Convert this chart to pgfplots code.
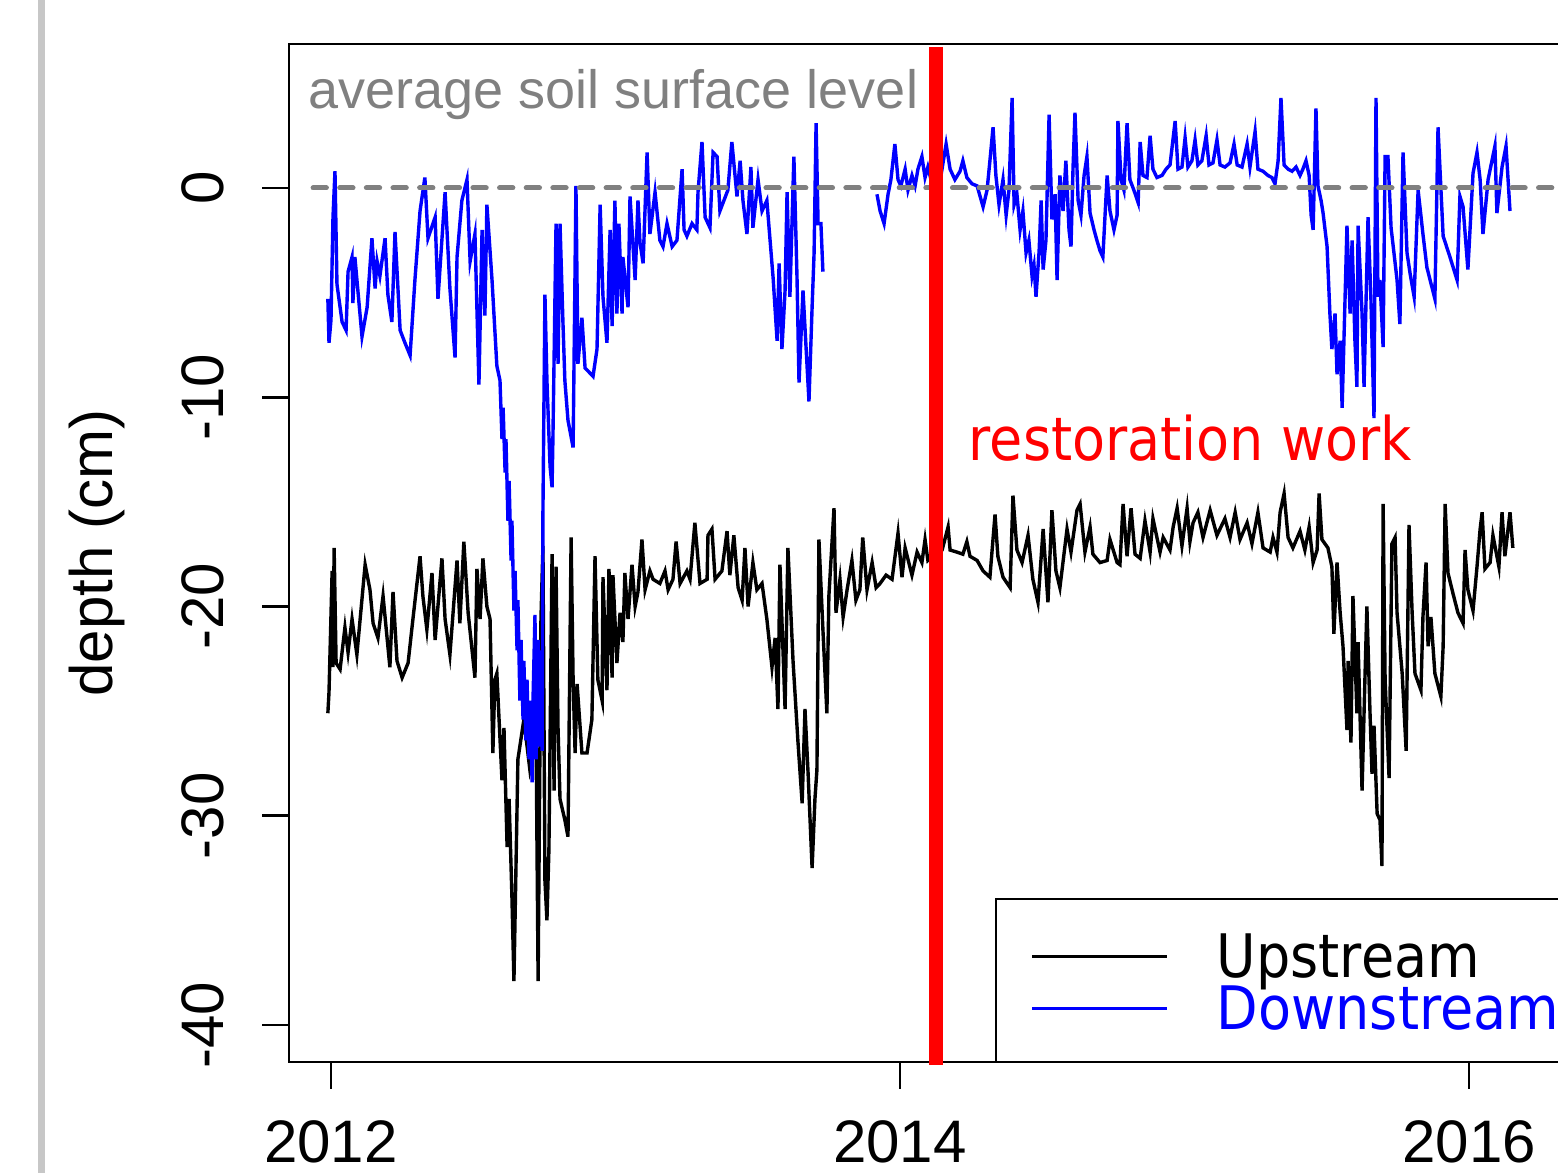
\documentclass[border=0pt]{standalone}
\usepackage{fontspec}
\setmainfont{Liberation Sans}
\newfontfamily\dvs[FakeStretch=0.9]{DejaVu Sans}
\usepackage{pgfplots}
\pgfplotsset{compat=1.18}
\begin{document}
\begin{tikzpicture}
\fill[black!22] (-62.75pt,-27.75pt) rectangle (-61.0pt,265.5pt);
\begin{axis}[
  at={(0pt,0pt)}, anchor=south west,
  scale only axis, width=327.75pt, height=254.5pt,
  xmin=2011.8524, xmax=2016.4604, ymin=-41.767, ymax=6.882,
  clip=false,
  axis line style={line width=0.65pt},
  tick align=outside, major tick length=6.75pt,
  every tick/.style={black, line width=0.65pt},
  xtick pos=left, ytick pos=left,
  xtick={2012,2014,2016}, xticklabels={2012,2014,2016},
  ytick={-40,-30,-20,-10,0}, yticklabels={-40,-30,-20,-10,0},
  /pgf/number format/assume math mode=true,
  ticklabel style={font=\fontsize{15}{18}\selectfont, inner sep=0pt},
  xticklabel style={anchor=north},
  xticklabel shift=7.75pt,
  yticklabel style={rotate=90, anchor=south},
  yticklabel shift=9.25pt,
  ylabel={depth (cm)},
  ylabel style={at={(axis description cs:-0.13425,0.5)}, anchor=base, font=\fontsize{15}{18}\selectfont, inner sep=0pt},
  legend image code/.code={\draw[#1, line width=0.75pt] (0pt,5.4pt) -- (33.75pt,5.4pt);},
  legend cell align=left,
  legend style={at={(axis cs:2014.457,-35.795)}, anchor=north west, draw=none, fill=none,
    inner sep=0pt, row sep=0pt, column sep=12pt,
    font=\dvs\fontsize{15}{15}\selectfont,
    nodes={inner sep=0pt, text height=10pt, text depth=3pt},
    cells={anchor=base west}},
]
% Upstream
\addplot[black, line width=0.85pt] coordinates {
(2011.989,-25.1) (2011.993,-24.1) (2012.004,-18.3) (2012.007,-22.9) (2012.011,-17.2) (2012.018,-22.7) (2012.032,-23.0) (2012.049,-21.0) (2012.060,-22.2) (2012.074,-20.6) (2012.091,-22.3) (2012.120,-18.0) (2012.137,-19.2) (2012.148,-20.8) (2012.165,-21.5) (2012.183,-19.5) (2012.207,-22.9) (2012.218,-19.3) (2012.232,-22.6) (2012.250,-23.4) (2012.271,-22.7) (2012.288,-20.6) (2012.313,-17.6) (2012.323,-19.5) (2012.337,-21.1) (2012.355,-18.4) (2012.366,-21.6) (2012.390,-17.7) (2012.401,-20.6) (2012.418,-22.3) (2012.443,-17.8) (2012.453,-20.8) (2012.467,-16.9) (2012.482,-20.3) (2012.506,-23.4) (2012.513,-18.2) (2012.524,-20.6) (2012.534,-17.7) (2012.548,-20.0) (2012.559,-20.6) (2012.569,-27.0) (2012.576,-23.5) (2012.583,-23.2) (2012.601,-28.3) (2012.608,-25.8) (2012.619,-31.5) (2012.626,-29.2) (2012.636,-33.9) (2012.643,-37.9) (2012.657,-27.3) (2012.678,-25.4) (2012.699,-27.8) (2012.721,-26.4) (2012.728,-37.9) (2012.738,-20.6) (2012.745,-17.1) (2012.752,-33.1) (2012.759,-35.0) (2012.766,-31.6) (2012.777,-17.5) (2012.784,-28.8) (2012.791,-18.1) (2012.798,-25.8) (2012.805,-29.2) (2012.822,-30.2) (2012.833,-31.0) (2012.844,-16.7) (2012.851,-23.5) (2012.858,-27.0) (2012.865,-23.7) (2012.882,-27.0) (2012.900,-27.0) (2012.917,-25.4) (2012.928,-17.6) (2012.938,-23.5) (2012.953,-24.5) (2012.956,-18.6) (2012.970,-24.0) (2012.977,-18.2) (2012.988,-23.4) (2012.991,-18.5) (2013.005,-22.7) (2013.016,-20.3) (2013.026,-21.7) (2013.033,-18.4) (2013.044,-20.6) (2013.058,-18.0) (2013.069,-20.0) (2013.079,-19.3) (2013.093,-16.8) (2013.104,-19.2) (2013.121,-18.3) (2013.132,-18.7) (2013.156,-18.9) (2013.174,-18.3) (2013.185,-19.2) (2013.202,-18.7) (2013.213,-16.9) (2013.227,-18.9) (2013.251,-18.3) (2013.262,-18.7) (2013.279,-16.0) (2013.297,-18.9) (2013.322,-18.7) (2013.325,-16.6) (2013.339,-16.3) (2013.350,-18.7) (2013.374,-18.3) (2013.392,-16.4) (2013.402,-18.5) (2013.416,-16.6) (2013.431,-19.1) (2013.445,-19.7) (2013.455,-17.2) (2013.466,-20.0) (2013.483,-17.9) (2013.497,-19.2) (2013.515,-18.9) (2013.532,-20.6) (2013.550,-22.9) (2013.561,-21.5) (2013.571,-24.9) (2013.578,-18.0) (2013.596,-24.9) (2013.606,-17.2) (2013.624,-22.6) (2013.641,-26.4) (2013.656,-29.4) (2013.666,-24.9) (2013.677,-28.0) (2013.691,-32.5) (2013.701,-29.2) (2013.708,-27.8) (2013.715,-16.8) (2013.729,-21.1) (2013.743,-25.1) (2013.750,-19.5) (2013.768,-15.3) (2013.775,-20.3) (2013.789,-18.7) (2013.800,-20.5) (2013.814,-19.2) (2013.831,-17.8) (2013.845,-19.7) (2013.859,-19.2) (2013.869,-16.7) (2013.884,-19.2) (2013.902,-17.9) (2013.916,-19.1) (2013.930,-18.9) (2013.951,-18.5) (2013.972,-18.7) (2013.993,-16.5) (2014.007,-18.6) (2014.018,-17.2) (2014.042,-18.5) (2014.060,-17.4) (2014.077,-17.9) (2014.088,-16.8) (2014.098,-17.8) (2014.123,-17.5) (2014.148,-17.3) (2014.169,-16.2) (2014.176,-17.3) (2014.200,-17.4) (2014.221,-17.5) (2014.235,-16.9) (2014.246,-17.6) (2014.271,-17.8) (2014.292,-18.3) (2014.316,-18.6) (2014.334,-15.6) (2014.344,-17.6) (2014.362,-18.6) (2014.387,-19.1) (2014.397,-14.7) (2014.411,-17.3) (2014.429,-17.9) (2014.450,-16.6) (2014.467,-18.7) (2014.485,-19.8) (2014.503,-16.3) (2014.520,-19.8) (2014.534,-15.4) (2014.548,-18.3) (2014.562,-19.1) (2014.587,-16.3) (2014.601,-17.4) (2014.622,-15.4) (2014.633,-15.1) (2014.650,-17.4) (2014.668,-16.2) (2014.678,-17.5) (2014.703,-17.9) (2014.728,-17.8) (2014.738,-16.8) (2014.763,-17.9) (2014.773,-18.0) (2014.784,-15.1) (2014.798,-17.6) (2014.812,-15.3) (2014.826,-17.5) (2014.844,-17.7) (2014.861,-15.9) (2014.879,-17.4) (2014.889,-15.8) (2014.914,-17.4) (2014.925,-16.7) (2014.949,-17.3) (2014.960,-16.2) (2014.974,-15.3) (2014.991,-17.1) (2015.009,-15.3) (2015.019,-16.9) (2015.030,-16.0) (2015.047,-15.5) (2015.065,-16.7) (2015.090,-15.4) (2015.114,-16.6) (2015.142,-15.8) (2015.160,-16.7) (2015.178,-15.5) (2015.195,-16.8) (2015.220,-16.0) (2015.237,-17.0) (2015.258,-15.5) (2015.276,-17.2) (2015.301,-17.4) (2015.311,-16.7) (2015.325,-17.4) (2015.336,-15.5) (2015.350,-14.6) (2015.364,-16.7) (2015.381,-17.2) (2015.406,-16.4) (2015.423,-17.3) (2015.438,-16.2) (2015.452,-17.9) (2015.466,-17.3) (2015.473,-14.6) (2015.483,-16.8) (2015.504,-17.2) (2015.518,-18.1) (2015.525,-21.3) (2015.536,-17.9) (2015.547,-20.3) (2015.557,-21.9) (2015.571,-25.9) (2015.575,-22.6) (2015.585,-26.5) (2015.592,-19.5) (2015.606,-25.1) (2015.610,-21.7) (2015.624,-28.8) (2015.634,-23.5) (2015.641,-20.0) (2015.652,-25.1) (2015.659,-28.0) (2015.666,-25.7) (2015.677,-29.9) (2015.687,-30.2) (2015.694,-32.4) (2015.698,-15.1) (2015.705,-23.5) (2015.719,-28.2) (2015.729,-17.0) (2015.740,-16.7) (2015.747,-20.3) (2015.765,-23.2) (2015.779,-26.9) (2015.789,-16.1) (2015.800,-20.3) (2015.810,-23.2) (2015.831,-24.0) (2015.838,-20.5) (2015.849,-17.9) (2015.856,-21.9) (2015.866,-20.5) (2015.880,-23.2) (2015.901,-24.3) (2015.909,-21.9) (2015.916,-15.1) (2015.926,-18.4) (2015.944,-19.4) (2015.961,-20.3) (2015.979,-20.8) (2015.986,-17.3) (2015.996,-19.2) (2016.014,-20.2) (2016.028,-18.1) (2016.039,-16.3) (2016.046,-15.5) (2016.056,-18.2) (2016.074,-17.9) (2016.084,-16.6) (2016.105,-18.1) (2016.116,-15.5) (2016.126,-17.6) (2016.144,-15.5) (2016.154,-17.2)
};
\addlegendentry{Upstream}
% Downstream, first period
\addplot[blue, line width=0.85pt] coordinates {
(2011.989,-5.3) (2011.993,-7.4) (2012.000,-6.3) (2012.007,-1.4) (2012.014,0.8) (2012.021,-4.6) (2012.039,-6.4) (2012.053,-6.8) (2012.060,-4.0) (2012.074,-3.3) (2012.077,-5.5) (2012.084,-3.3) (2012.109,-7.1) (2012.127,-5.7) (2012.144,-2.4) (2012.155,-4.8) (2012.162,-3.5) (2012.172,-4.2) (2012.190,-2.4) (2012.200,-5.1) (2012.214,-6.4) (2012.225,-2.1) (2012.243,-6.8) (2012.260,-7.4) (2012.278,-8.0) (2012.295,-4.4) (2012.313,-1.1) (2012.330,0.5) (2012.341,-2.4) (2012.366,-1.4) (2012.376,-5.3) (2012.401,-0.2) (2012.418,-4.8) (2012.436,-8.1) (2012.443,-3.3) (2012.460,-0.6) (2012.478,0.4) (2012.489,-3.5) (2012.506,-2.2) (2012.520,-9.4) (2012.531,-2.0) (2012.541,-6.1) (2012.548,-0.8) (2012.566,-4.4) (2012.583,-8.5)
(2012.594,-9.2) (2012.601,-12.0) (2012.605,-10.5) (2012.612,-13.6) (2012.615,-12.0) (2012.622,-15.9) (2012.626,-14.0) (2012.633,-17.8) (2012.636,-15.9) (2012.643,-20.2) (2012.647,-18.3) (2012.654,-22.1) (2012.657,-19.7) (2012.664,-24.5) (2012.668,-21.6) (2012.675,-25.4) (2012.678,-22.6) (2012.685,-26.4) (2012.689,-23.5) (2012.696,-27.3) (2012.699,-24.5) (2012.707,-28.4) (2012.710,-24.5) (2012.717,-20.4) (2012.721,-27.3) (2012.728,-21.6) (2012.731,-26.7) (2012.738,-22.1) (2012.742,-26.9) (2012.745,-15.4) (2012.752,-5.1)
(2012.759,-9.2) (2012.770,-13.3) (2012.777,-14.3) (2012.780,-12.0) (2012.791,-1.7) (2012.798,-8.4) (2012.805,-1.7) (2012.815,-6.3) (2012.822,-9.2) (2012.833,-11.1) (2012.851,-12.4) (2012.861,0.1) (2012.868,-8.4) (2012.882,-6.2) (2012.893,-8.6) (2012.921,-9.0) (2012.935,-7.7) (2012.946,-0.8) (2012.956,-5.2) (2012.970,-7.4) (2012.981,-2.0) (2012.988,-6.6) (2012.998,-0.6) (2013.005,-6.0) (2013.012,-1.7) (2013.023,-6.0) (2013.026,-3.3) (2013.044,-5.7) (2013.051,-0.4) (2013.069,-4.4) (2013.079,-0.6) (2013.086,-2.6) (2013.097,-3.6) (2013.111,1.7) (2013.121,-2.2) (2013.139,-0.2) (2013.156,-2.5) (2013.167,-2.8) (2013.181,-1.7) (2013.199,-2.8) (2013.216,-2.5) (2013.234,0.9) (2013.241,-2.0) (2013.251,-2.3) (2013.269,-1.7) (2013.286,-2.0) (2013.290,-0.2) (2013.304,2.2) (2013.315,-1.4) (2013.332,-1.9) (2013.343,1.7) (2013.357,1.5) (2013.367,-1.1) (2013.395,-0.1) (2013.409,2.2) (2013.427,-0.4) (2013.438,1.3) (2013.448,-0.6) (2013.462,-2.2) (2013.476,1.0) (2013.483,-1.9) (2013.501,0.4) (2013.515,-1.1) (2013.532,-0.6) (2013.554,-4.3) (2013.568,-7.3) (2013.575,-3.6) (2013.585,-7.7) (2013.596,-4.9) (2013.603,-0.2) (2013.613,-5.2) (2013.627,1.5) (2013.638,-4.3) (2013.645,-9.3) (2013.659,-4.9) (2013.680,-10.2) (2013.691,-5.7) (2013.698,-3.1) (2013.705,3.1) (2013.712,-1.7) (2013.722,-1.7) (2013.729,-4.0)
};
\addlegendentry{\textcolor{blue}{Downstream}}
% Downstream, second period
\addplot[blue, line width=0.85pt, forget plot] coordinates {
(2013.919,-0.3) (2013.930,-1.1) (2013.944,-1.7) (2013.958,-0.3) (2013.968,0.4) (2013.982,2.1) (2013.993,0.4) (2014.003,0.1) (2014.018,0.9) (2014.028,-0.1) (2014.042,0.6) (2014.053,0.1) (2014.063,0.9) (2014.077,1.5) (2014.088,0.5) (2014.098,1.0) (2014.109,0.4) (2014.127,0.9) (2014.144,0.6) (2014.162,2.1) (2014.176,0.9) (2014.193,0.4) (2014.211,0.8) (2014.221,1.3) (2014.235,0.5) (2014.253,0.2) (2014.271,0.1) (2014.292,-0.9) (2014.306,-0.1) (2014.316,1.3) (2014.327,2.9) (2014.337,0.6) (2014.348,-0.8) (2014.362,0.4) (2014.373,-1.3) (2014.383,-0.1) (2014.394,4.3) (2014.401,-0.8) (2014.411,-0.3) (2014.422,-2.0) (2014.432,-1.1) (2014.443,-3.1) (2014.453,-2.5) (2014.464,-4.2) (2014.471,-3.7) (2014.478,-5.2) (2014.489,-3.0) (2014.496,-0.6) (2014.503,-3.9) (2014.513,-2.5) (2014.524,3.5) (2014.534,-1.5) (2014.545,-0.3) (2014.552,-4.4) (2014.562,0.6) (2014.573,-1.1) (2014.583,1.3) (2014.594,-2.0) (2014.601,-2.8) (2014.608,0.9) (2014.615,3.6) (2014.626,-0.6) (2014.636,-1.3) (2014.647,0.6) (2014.657,1.5) (2014.668,-1.2) (2014.682,-2.0) (2014.692,-2.5) (2014.703,-3.0) (2014.713,-3.3) (2014.728,0.6) (2014.738,-1.1) (2014.752,-2.0) (2014.763,-1.3) (2014.766,3.2) (2014.777,0.4) (2014.787,-0.1) (2014.798,3.1) (2014.808,0.4) (2014.822,-0.1) (2014.837,-0.7) (2014.844,2.2) (2014.854,0.6) (2014.868,0.5) (2014.879,2.5) (2014.889,0.9) (2014.903,0.5) (2014.921,0.6) (2014.935,0.9) (2014.949,1.1) (2014.967,3.2) (2014.977,0.9) (2014.991,1.0) (2015.002,2.4) (2015.012,1.0) (2015.026,1.3) (2015.037,2.3) (2015.047,1.1) (2015.061,1.3) (2015.076,2.5) (2015.086,1.1) (2015.100,1.2) (2015.114,2.3) (2015.125,1.1) (2015.142,1.0) (2015.160,1.2) (2015.174,2.1) (2015.185,1.1) (2015.202,1.0) (2015.220,2.1) (2015.230,1.0) (2015.248,2.7) (2015.258,0.9) (2015.276,0.8) (2015.293,0.6) (2015.307,0.5) (2015.318,0.2) (2015.329,1.3) (2015.339,4.3) (2015.350,1.1) (2015.364,0.9) (2015.378,0.8) (2015.392,1.0) (2015.406,0.6) (2015.416,0.9) (2015.427,1.3) (2015.438,0.6) (2015.445,-1.3) (2015.452,-2.0) (2015.462,3.8) (2015.469,0.1) (2015.480,-0.6) (2015.487,-1.2) (2015.501,-2.8) (2015.511,-6.0) (2015.518,-7.7) (2015.529,-6.0) (2015.536,-8.9) (2015.547,-7.3) (2015.554,-10.5) (2015.564,-5.4) (2015.571,-1.8) (2015.582,-6.0) (2015.589,-2.5) (2015.599,-7.3) (2015.606,-9.5) (2015.610,-1.8) (2015.624,-6.0) (2015.631,-9.5) (2015.638,-5.4) (2015.645,-1.4) (2015.655,-5.2) (2015.666,-11.0) (2015.673,4.3) (2015.680,-5.2) (2015.687,-4.4) (2015.698,-7.6) (2015.705,1.5) (2015.715,1.5) (2015.726,-1.9) (2015.747,-4.4) (2015.757,-6.5) (2015.768,1.7) (2015.782,-3.1) (2015.793,-4.1) (2015.807,-5.2) (2015.821,-0.1) (2015.838,-2.2) (2015.852,-3.8) (2015.880,-5.3) (2015.891,2.9) (2015.909,-2.3) (2015.933,-3.3) (2015.958,-4.4) (2015.968,-0.4) (2015.979,-0.9) (2015.996,-3.9) (2016.014,0.7) (2016.028,1.7) (2016.039,0.4) (2016.049,-2.2) (2016.067,0.4) (2016.091,2.0) (2016.098,-1.2) (2016.116,1.0) (2016.130,2.0) (2016.144,-1.1)
};
% average soil surface level
\addplot[forget plot, gray, line width=1.25pt, line cap=round, dash pattern=on 3.33pt off 3.33pt] coordinates {(2011.937,0) (2016.46,0)};
% restoration work
\addplot[forget plot, red, line width=3.5pt] coordinates {(2014.128,6.74) (2014.128,-41.9)};
\node[anchor=base west, inner sep=0pt, text=gray, font=\fontsize{13.5}{16}\selectfont] at (axis description cs:0.01449,0.9371) {average soil surface level};
\node[anchor=base west, inner sep=0pt, text=red, font=\dvs\fontsize{15}{18}\selectfont] at (axis description cs:0.5179,0.5904) {restoration work};
\draw[line width=0.55pt] (axis cs:2014.337,-41.767) |- (axis cs:2016.8,-33.978);
\end{axis}
\pgfresetboundingbox
\path[use as bounding box] (-72.25pt,-27.75pt) rectangle (317.25pt,265.5pt);
\end{tikzpicture}
\end{document}
